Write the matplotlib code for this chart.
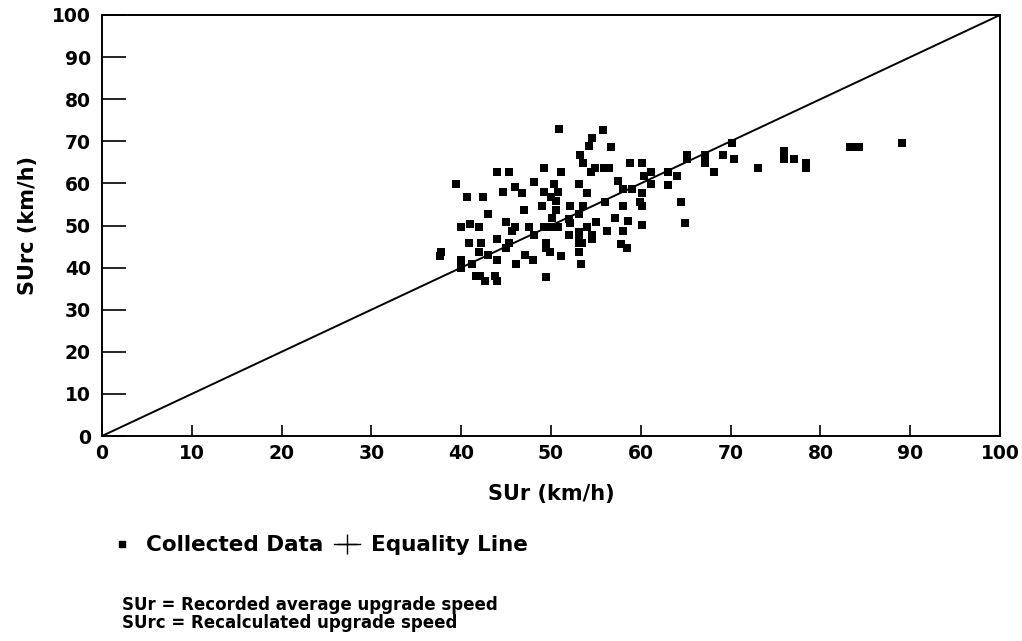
import matplotlib
matplotlib.use("Agg")
import matplotlib.pyplot as plt
from matplotlib.lines import Line2D

plt.rcParams['font.family'] = ['DejaVu Sans']
plt.rcParams['font.weight'] = 'bold'

# Collected data: SUr (recorded) vs SUrc (recalculated), km/h
sur = [50.9, 54.6, 54.2, 53.2, 53.6, 54.9, 54.5, 49.2, 51.1, 44.0,
       45.3, 39.4, 48.1, 50.3, 53.1, 46.0, 44.7, 46.8, 49.2, 50.8,
       54.0, 40.6, 42.4, 50.0, 50.5, 49.0, 52.1, 53.6, 47.0, 50.6,
       43.0, 53.1, 50.1, 52.0, 52.1, 45.0, 55.0, 40.0, 41.0, 42.0,
       46.0, 45.7, 47.6, 49.2, 49.9, 50.8, 54.0, 53.1, 53.1, 52.0,
       54.6, 54.6, 48.1, 44.0, 40.9, 42.2, 45.3, 45.0, 49.4, 49.4,
       49.9, 53.1, 53.5, 53.1, 37.7, 37.6, 42.0, 43.0, 47.1, 51.1,
       40.0, 44.0, 48.0, 41.2, 46.1, 53.3, 40.0, 41.6, 42.1, 42.7,
       43.8, 44.0, 49.4,
       55.8, 56.7, 55.9, 56.5, 58.8, 60.1, 65.1, 65.1, 67.1, 69.1,
       70.1, 70.4, 67.1, 68.1, 73.0, 61.1, 60.3, 63.0, 64.0, 57.5,
       61.1, 63.0, 58.0, 59.0, 60.1, 56.0, 59.9, 60.1, 58.0, 64.5,
       57.1, 58.6, 60.1, 64.9, 56.2, 58.0, 57.8, 58.5,
       75.9, 75.9, 77.1, 78.4, 78.4, 83.3, 83.8, 84.3, 89.1]
surc = [72.9, 70.9, 68.9, 66.8, 64.8, 63.7, 62.8, 63.7, 62.8, 62.8,
        62.8, 59.9, 60.3, 59.9, 59.8, 59.2, 57.9, 57.8, 57.9, 57.9,
        57.8, 56.8, 56.8, 56.8, 55.8, 54.7, 54.7, 54.7, 53.8, 53.8,
        52.7, 52.7, 51.8, 51.6, 50.7, 50.8, 50.8, 49.7, 50.3, 49.7,
        49.7, 48.7, 49.7, 49.7, 49.7, 49.7, 49.7, 48.5, 47.6, 47.7,
        47.7, 46.8, 47.7, 46.8, 45.8, 45.8, 45.8, 44.7, 45.8, 44.7,
        43.8, 45.8, 45.8, 43.6, 43.8, 42.8, 43.8, 43.0, 42.9, 42.8,
        41.8, 41.8, 41.8, 40.9, 40.9, 40.9, 39.8, 37.9, 37.9, 36.8,
        37.9, 36.8, 37.8,
        72.7, 68.7, 63.7, 63.7, 64.8, 64.8, 66.7, 65.8, 66.7, 66.7,
        69.7, 65.7, 64.8, 62.6, 63.6, 62.8, 61.8, 62.8, 61.8, 60.6,
        59.8, 59.6, 58.7, 58.7, 57.8, 55.7, 55.7, 54.6, 54.6, 55.7,
        51.7, 51.1, 50.1, 50.7, 48.7, 48.7, 45.7, 44.7,
        67.7, 65.7, 65.7, 64.8, 63.6, 68.7, 68.7, 68.7, 69.7]

equality = [0, 100]
ticks = [0, 10, 20, 30, 40, 50, 60, 70, 80, 90, 100]

fig = plt.figure(figsize=(10.22, 6.41), dpi=100)
ax = fig.add_axes([0.0998, 0.3198, 0.8787, 0.6568])

ax.scatter(sur, surc, marker='s', s=28, color='black', linewidths=0,
           label='Collected Data', zorder=3)
ax.plot(equality, equality, color='black', lw=1.4,
        label='Equality Line', zorder=2)

ax.set_xlim(0, 100)
ax.set_ylim(0, 100)
ax.set_xticks(ticks)
ax.set_yticks(ticks)
ax.tick_params(axis='y', direction='in', length=17, width=1.2, labelsize=13.5, pad=8)
ax.tick_params(axis='x', direction='in', length=8, width=1.2, labelsize=13.5, pad=6)
for lab in ax.get_xticklabels() + ax.get_yticklabels():
    lab.set_fontweight('bold')
for sp in ax.spines.values():
    sp.set_linewidth(1.4)

ax.set_xlabel('SUr (km/h)', fontsize=15, fontweight='bold', labelpad=15)
ax.set_ylabel('SUrc (km/h)', fontsize=15, fontweight='bold', labelpad=10)

h_data = Line2D([], [], marker='s', markersize=4, color='black', linestyle='none')
h_eq = Line2D([], [], marker='+', markersize=14, markeredgewidth=1.0,
              color='black', lw=1.0)
fig.legend([h_data, h_eq], ['Collected Data', 'Equality Line'],
           loc='center left', bbox_to_anchor=(0.088, 0.149), ncol=2,
           frameon=False, handlelength=1.2, handletextpad=0.5,
           columnspacing=0.5, prop={'size': 15.5, 'weight': 'bold'})

fig.text(0.119, 0.042, 'SUr = Recorded average upgrade speed\nSUrc = Recalculated upgrade speed',
         fontsize=12, fontweight='bold', ha='left', va='center', linespacing=1.05)

fig.savefig('out.png', dpi=100)
